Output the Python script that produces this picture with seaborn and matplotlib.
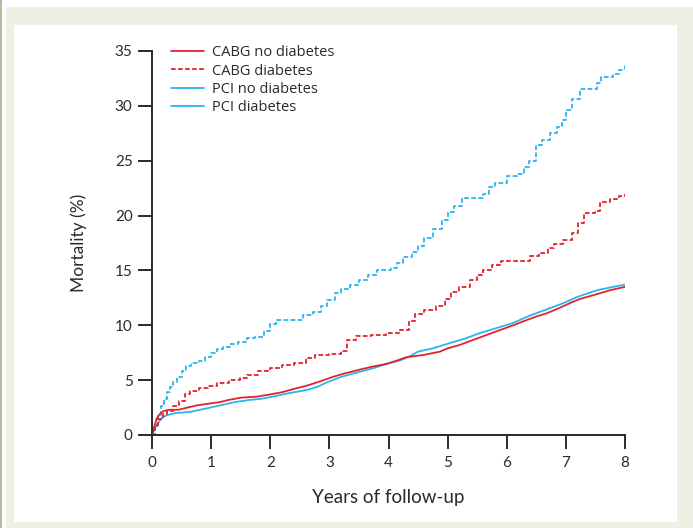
import numpy as np
import pandas as pd
import matplotlib
matplotlib.use("Agg")
import matplotlib.pyplot as plt
from matplotlib.lines import Line2D
from matplotlib.patches import Rectangle
import seaborn as sns

# ---- data ----
pci_dm_t = [0, 0.05, 0.1, 0.15, 0.2, 0.25, 0.3, 0.36, 0.42, 0.5, 0.58, 0.66, 0.8, 0.9, 1.0, 1.1, 1.2, 1.32,
            1.45, 1.6, 1.75, 1.9, 2.0, 2.1, 2.45, 2.55, 2.72, 2.85, 2.96, 3.1, 3.2, 3.35, 3.5, 3.65, 3.8, 4.05,
            4.15, 4.25, 4.4, 4.5, 4.6, 4.75, 4.9, 5.0, 5.1, 5.25, 5.6, 5.7, 5.8, 6.0, 6.18, 6.3, 6.38, 6.5,
            6.6, 6.73, 6.85, 6.94, 7.0, 7.1, 7.24, 7.46, 7.52, 7.6, 7.8, 7.9, 8.0]
pci_dm_v = [0, 0.8, 1.8, 2.6, 3.3, 3.9, 4.4, 4.8, 5.3, 5.8, 6.3, 6.6, 6.7, 7.1, 7.5, 7.8, 8.0, 8.3,
            8.5, 8.8, 8.9, 9.5, 10.1, 10.5, 10.5, 10.9, 11.2, 11.8, 12.3, 12.9, 13.3, 13.7, 14.1, 14.6, 15.0, 15.2,
            15.7, 16.2, 16.7, 17.2, 18.0, 18.8, 19.6, 20.3, 20.9, 21.6, 22.0, 22.6, 23.0, 23.6, 23.8, 24.4, 25.0, 26.4,
            26.9, 27.5, 28.1, 28.7, 29.6, 30.6, 31.5, 31.5, 32.1, 32.6, 32.9, 33.3, 33.7]

cabg_dm_t = [0, 0.05, 0.1, 0.18, 0.25, 0.35, 0.45, 0.55, 0.65, 0.8, 0.95, 1.1, 1.3, 1.49, 1.6, 1.8, 2.0,
             2.2, 2.4, 2.6, 2.75, 3.0, 3.2, 3.3, 3.45, 3.7, 3.95, 4.2, 4.35, 4.45, 4.6, 4.8, 4.95, 5.05,
             5.2, 5.38, 5.5, 5.6, 5.75, 5.9, 6.3, 6.4, 6.55, 6.7, 6.8, 6.95, 7.1, 7.2, 7.3, 7.5, 7.58,
             7.75, 7.9, 8.0]
cabg_dm_v = [0, 0.9, 1.5, 1.9, 2.2, 2.6, 3.1, 3.7, 4.0, 4.3, 4.5, 4.7, 5.0, 5.2, 5.5, 5.8, 6.1,
             6.4, 6.6, 7.0, 7.3, 7.4, 7.7, 8.7, 9.0, 9.1, 9.3, 9.6, 10.4, 11.0, 11.4, 11.8, 12.4, 13.0,
             13.5, 14.1, 14.6, 15.0, 15.5, 15.9, 15.9, 16.3, 16.6, 17.0, 17.4, 17.8, 18.4, 19.3, 20.2, 20.4, 21.2,
             21.5, 21.8, 22.0]

cabg_nodm_t = [0, 0.04, 0.08, 0.13, 0.2, 0.3, 0.45, 0.6, 0.76, 0.95, 1.15, 1.3, 1.5, 1.78, 2.0, 2.2, 2.4,
               2.62, 2.85, 3.06, 3.25, 3.47, 3.7, 3.98, 4.15, 4.31, 4.6, 4.87, 5.0, 5.2, 5.4, 5.55, 5.8,
               6.11, 6.3, 6.5, 6.68, 6.9, 7.1, 7.24, 7.5, 7.75, 8.0]
cabg_nodm_v = [0, 0.8, 1.5, 1.9, 2.2, 2.3, 2.3, 2.5, 2.7, 2.85, 3.0, 3.2, 3.4, 3.5, 3.7, 3.9, 4.2,
               4.5, 4.9, 5.3, 5.6, 5.9, 6.2, 6.5, 6.8, 7.1, 7.3, 7.6, 7.9, 8.2, 8.6, 8.9, 9.4,
               10.0, 10.4, 10.8, 11.1, 11.6, 12.1, 12.4, 12.8, 13.2, 13.5]

pci_nodm_t = [0, 0.05, 0.1, 0.18, 0.25, 0.4, 0.64, 0.9, 1.15, 1.4, 1.66, 1.85, 2.05, 2.3, 2.62, 2.8, 2.96,
              3.2, 3.47, 3.75, 3.98, 4.2, 4.37, 4.5, 4.75, 4.99, 5.3, 5.55, 5.8, 6.1, 6.4, 6.7, 6.95,
              7.2, 7.53, 7.8, 8.0]
pci_nodm_v = [0, 0.6, 1.1, 1.6, 1.8, 2.0, 2.1, 2.4, 2.7, 3.0, 3.2, 3.3, 3.5, 3.8, 4.1, 4.4, 4.8,
              5.3, 5.7, 6.1, 6.5, 6.8, 7.2, 7.6, 7.9, 8.3, 8.8, 9.3, 9.7, 10.2, 10.9, 11.5, 12.0,
              12.6, 13.2, 13.5, 13.7]

legend_labels = ["CABG no diabetes", "CABG diabetes", "PCI no diabetes", "PCI diabetes"]
x_ticks = [0, 1, 2, 3, 4, 5, 6, 7, 8]
y_ticks = [0, 5, 10, 15, 20, 25, 30, 35]

RED = "#e2232d"
BLUE = "#2cb4ee"
INK = "#2a2a2a"

sns.set_theme(style="white")
plt.rcParams["font.family"] = ["Lato", "DejaVu Sans"]

fig = plt.figure(figsize=(6.93, 5.28), dpi=100)
fig.patch.set_facecolor("white")
W, H = 693, 528
# beige frame and white inner panel
fig.patches.append(Rectangle((6 / W, 0), 1 - 6 / W, 1 - 7 / H, transform=fig.transFigure,
                             facecolor="#efefe3", edgecolor="none", zorder=-10))
fig.patches.append(Rectangle((0, 0), 2 / W, 1, transform=fig.transFigure,
                             facecolor="#b8b89a", edgecolor="none", zorder=-10))
fig.patches.append(Rectangle((14 / W, 1 - 522 / H), (677 - 14) / W, (522 - 25) / H,
                             transform=fig.transFigure, facecolor="white", edgecolor="none", zorder=-9))

ax = fig.add_axes([152 / W, 1 - 435 / H, (625 - 152) / W, (435 - 51) / H])
ax.set_facecolor("none")

def draw(t, v, color, dashed):
    df = pd.DataFrame({"t": t, "v": v})
    if dashed:
        kw = dict(dashes=(2.6, 1.3), drawstyle="steps-post")
    else:
        kw = {}
    sns.lineplot(data=df, x="t", y="v", ax=ax, color=color, linewidth=1.3,
                 estimator=None, sort=False, legend=False, **kw)

draw(pci_dm_t, pci_dm_v, BLUE, True)
draw(pci_nodm_t, pci_nodm_v, BLUE, False)
draw(cabg_dm_t, cabg_dm_v, RED, True)
draw(cabg_nodm_t, cabg_nodm_v, RED, False)

ax.set_xlim(0, 8)
ax.set_ylim(0, 35)
ax.set_xticks(x_ticks)
ax.set_yticks(y_ticks)
ax.set_xticklabels([str(x) for x in x_ticks])
ax.set_yticklabels([str(y) for y in y_ticks])
for s in ["top", "right"]:
    ax.spines[s].set_visible(False)
for s in ["left", "bottom"]:
    ax.spines[s].set_color(INK)
    ax.spines[s].set_linewidth(1.4)
ax.tick_params(axis="both", direction="out", length=10, width=1.4, color=INK,
               labelsize=11, labelcolor=INK, left=True, bottom=True)
ax.tick_params(axis="y", pad=4)
ax.tick_params(axis="x", pad=5)
ax.set_xlabel("Years of follow-up", fontsize=13.5, color=INK, labelpad=14)
ax.set_ylabel("Mortality (%)", fontsize=12.5, color=INK, labelpad=20)

handles = [Line2D([], [], color=RED, lw=1.3),
           Line2D([], [], color=RED, lw=1.3, dashes=(2.6, 1.3)),
           Line2D([], [], color=BLUE, lw=1.3),
           Line2D([], [], color=BLUE, lw=1.3)]
leg = ax.legend(handles, legend_labels, loc="upper left", bbox_to_anchor=(0.027, 1.03),
                frameon=False, prop={"family": ["Open Sans", "DejaVu Sans"], "size": 10.5},
                handlelength=2.3, handletextpad=0.55,
                labelspacing=0.22, borderaxespad=0)
for txt in leg.get_texts():
    txt.set_color(INK)

fig.savefig("out.png", dpi=100, facecolor=fig.get_facecolor())
